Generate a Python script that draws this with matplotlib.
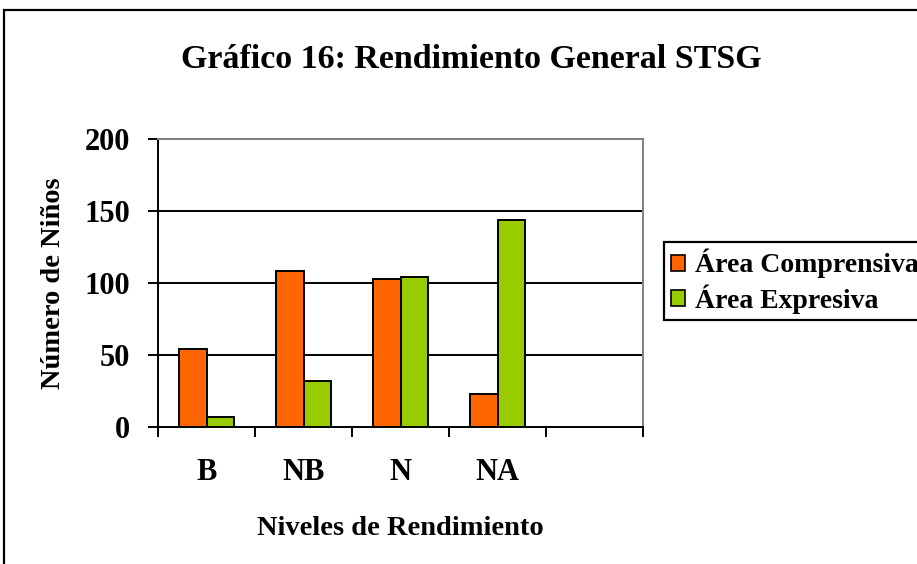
import matplotlib
matplotlib.use("Agg")
import matplotlib.pyplot as plt
from matplotlib.patches import Rectangle, Patch
import numpy as np

categorias = ["B", "NB", "N", "NA", ""]
comprensiva = [54, 108, 103, 23]
expresiva = [7, 32, 104, 144]
series = ["Área Comprensiva", "Área Expresiva"]
colores = ["#FF6600", "#99CC00"]

plt.rcParams["font.family"] = ["Liberation Serif", "DejaVu Serif"]
plt.rcParams["font.weight"] = "bold"

fig = plt.figure(figsize=(9.17, 5.64), dpi=100)
W, H = 917, 564

# outer chart frame (right and bottom edges fall outside the picture)
fig.patches.append(Rectangle((4 / W, -0.1), 1.2, 1 - 10 / H + 0.1,
                             transform=fig.transFigure, fill=False,
                             edgecolor="black", linewidth=1.6, zorder=0))

ax = fig.add_axes([158 / W, 1 - 427 / H, 485 / W, 288 / H])

x = np.arange(len(comprensiva)) + 0.5
w = 0.283
ax.bar(x - w / 2, comprensiva, w, color=colores[0], edgecolor="black",
       linewidth=1.4, zorder=3)
ax.bar(x + w / 2, expresiva, w, color=colores[1], edgecolor="black",
       linewidth=1.4, zorder=3)

ax.set_xlim(0, 5)
ax.set_ylim(0, 200)
ax.set_yticks([0, 50, 100, 150, 200])
ax.yaxis.grid(True, color="black", linewidth=1.4, zorder=1)
ax.set_axisbelow(True)

ax.set_xticks(np.arange(6))
ax.set_xticklabels([])
ax.set_xticks(np.arange(5) + 0.5, minor=True)
ax.set_xticklabels(categorias, minor=True)
ax.tick_params(axis="x", which="major", direction="out", length=7, width=1.4)
ax.tick_params(axis="x", which="minor", length=0, pad=22, labelsize=22)
ax.tick_params(axis="y", direction="out", length=7, width=1.4, pad=13,
               labelsize=22)

for s in ["left", "bottom"]:
    ax.spines[s].set_color("black")
    ax.spines[s].set_linewidth(1.4)
for s in ["top", "right"]:
    ax.spines[s].set_color("#808080")
    ax.spines[s].set_linewidth(1.4)

ax.set_xlabel("Niveles de Rendimiento", fontsize=20.5, fontweight="bold",
              labelpad=21)
ax.set_ylabel("Número de Niños", fontsize=20.5, fontweight="bold", labelpad=13)

fig.text(471 / W, 1 - 59 / H, "Gráfico 16: Rendimiento General STSG",
         ha="center", va="center", fontsize=24.5, fontweight="bold")

handles = [Patch(facecolor=c, edgecolor="black", linewidth=1.2) for c in colores]
leg = fig.legend(handles, series, loc="upper left",
                 bbox_to_anchor=(664 / W, 1 - 242 / H), frameon=True,
                 fancybox=False, edgecolor="black", framealpha=1, fontsize=20,
                 handlelength=0.5, handleheight=0.5, handletextpad=0.35,
                 borderpad=0.25, labelspacing=0.2, borderaxespad=0)
leg.get_frame().set_linewidth(1.6)

fig.savefig("out.png", dpi=100)
